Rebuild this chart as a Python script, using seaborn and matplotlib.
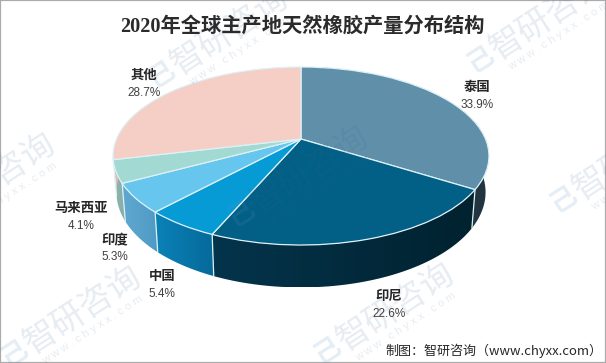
# Load libraries
import numpy as np
import matplotlib
matplotlib.use('Agg')
import matplotlib.pyplot as plt
import seaborn as sns
from matplotlib.path import Path
from matplotlib.patches import PathPatch
from matplotlib.transforms import Transform

# Data
countries = ['泰国', '印尼', '中国', '印度', '马来西亚', '其他']
shares = [33.9, 22.6, 5.4, 5.3, 4.1, 28.7]

# Colours
top_colors = ['#5F8FA9', '#025F85', '#079BD5', '#66C6EE', '#A3D9D3', '#F5CFC5']
wall_left = ['#2C4551', '#04344C', '#0A82B8', '#5FA8D2', '#8FB5B0', '#E0BDB4']
wall_right = ['#22343F', '#01222F', '#066A9A', '#4F9AC4', '#86ACA7', '#E0BDB4']

# Label positions in pixels (name line, value line comes 18 px lower)
label_pos = [(477, 87), (389, 296), (162, 276), (115, 239), (81, 208), (144, 75)]

# Watermark centres in pixels
mark_pos = [(230, 31), (549, 16), (-3, 177), (310, 170), (632, 156), (83, 310), (396, 307)]

APEX_X, APEX_Y = 301, 139
SIDE = '#DDF1F7'
MARK = '#3F6A94'


def project(u, v):
    # unit circle -> pixels, tilted disc so the apex sits above the ellipse centre
    w = 1 + 0.191 * v
    return 184.5 * u / w, 85.75 * v / w


class Tilt(Transform):
    input_dims = 2
    output_dims = 2

    def transform_non_affine(self, values):
        values = np.asarray(values)
        x, y = project(values[:, 0], values[:, 1])
        return np.column_stack([APEX_X + x, APEX_Y - y])


def lower(x, y):
    # the bottom disc is a bit narrower and sits about 40 px lower
    return 0.982 * x, 1.07 * y - 35


sns.set_theme(style='white')
plt.rcParams['font.family'] = ['Noto Sans CJK SC', 'DejaVu Sans']

fig, ax = plt.subplots(figsize=(6.06, 3.63), dpi=100)
fig.subplots_adjust(0, 0, 1, 1)

# Top of the pie
wedges, _ = ax.pie(shares, colors=top_colors, startangle=90, counterclock=False,
                   wedgeprops={'edgecolor': SIDE, 'linewidth': 0.9})
for wedge in wedges:
    wedge.set_transform(Tilt() + ax.transData)
    wedge.set_zorder(3)

# Side walls, one gradient per slice
ends = np.cumsum(shares) / np.sum(shares) * 2 * np.pi
starts = np.r_[0, ends[:-1]]
for i in range(len(shares)):
    theta = np.linspace(starts[i], ends[i], 60)
    x, y = project(np.sin(theta), np.cos(theta))
    xb, yb = lower(x, y)
    px = APEX_X + np.r_[x, xb[::-1]]
    py = APEX_Y - np.r_[y, yb[::-1]]
    wall = PathPatch(Path(np.column_stack([px, py])), facecolor='none', edgecolor='none',
                     transform=ax.transData)
    ax.add_patch(wall)
    cmap = sns.blend_palette([wall_left[i], wall_right[i]], 64, as_cmap=True)
    img = ax.imshow(np.linspace(0, 1, 64)[None, :], cmap=cmap, aspect='auto', zorder=1,
                    extent=(px.min(), px.max(), py.max(), py.min()))
    img.set_clip_path(wall)
    # Light line on the slice boundary
    if i < len(shares) - 1:
        ax.plot(APEX_X + np.array([x[-1], xb[-1]]), APEX_Y - np.array([y[-1], yb[-1]]),
                color=SIDE, lw=0.9, zorder=2)

ax.set_aspect('auto')
ax.set_xlim(0, 606)
ax.set_ylim(363, 0)
ax.set_xticks([])
ax.set_yticks([])
ax.set_frame_on(True)
for spine in ax.spines.values():
    spine.set_visible(True)
    spine.set_color('#ABABAB')
    spine.set_linewidth(1.6)

# Labels
for name, share, (lx, ly) in zip(countries, shares, label_pos):
    ax.text(lx, ly, name, ha='center', va='center', fontsize=9.6, fontweight='bold',
            color='#262626', zorder=7)
    ax.text(lx, ly + 18, f'{share}%', ha='center', va='center', fontsize=8.5,
            family='Liberation Sans', color='#404040', zorder=7)

# Title and source
ax.text(302, 27, '2020年全球主产地天然橡胶产量分布结构', ha='center', va='center', fontsize=14.6,
        fontweight='bold', family=['Liberation Serif', 'Noto Sans CJK SC'], color='#2B2B2B', zorder=7)
ax.text(602, 351, '制图：智研咨询（www.chyxx.com）', ha='right', va='center', fontsize=9.4,
        color='#262626', zorder=7)

# Watermarks
for mx, my in mark_pos:
    ax.text(mx, my, '智研咨询', rotation=33, ha='center', va='center', rotation_mode='anchor',
            fontsize=24, color=MARK, alpha=0.13, zorder=6, clip_on=True)
    ax.text(mx - 69, my + 43, '己', rotation=33, ha='center', va='center', rotation_mode='anchor',
            fontsize=19, fontweight='bold', color='#5E93C4', alpha=0.16, zorder=6, clip_on=True)
    ax.text(mx + 10, my + 20, 'w w w . c h y x x . c o m', rotation=33, ha='center', va='center',
            rotation_mode='anchor', fontsize=8, family='Liberation Sans', color=MARK, alpha=0.13,
            zorder=6, clip_on=True)

fig.savefig('out.png', dpi=100)
